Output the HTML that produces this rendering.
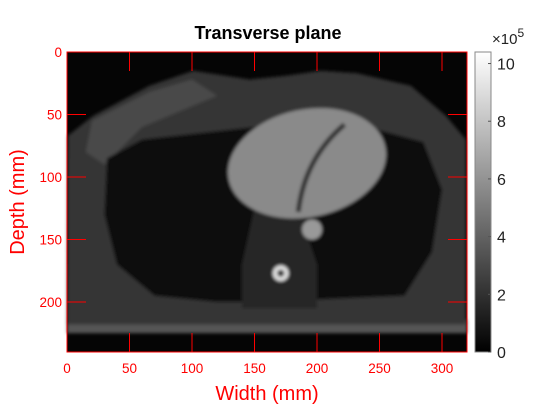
<!DOCTYPE html>
<html><head><meta charset="utf-8"><style>
body{margin:0;background:#fff;width:560px;height:420px;overflow:hidden;font-family:"Liberation Sans",Arial,sans-serif}
svg{position:absolute;left:0;top:0}
</style></head><body>
<svg width="560" height="420" id="chart">
<defs>
<linearGradient id="cb" x1="0" y1="1" x2="0" y2="0"><stop offset="0" stop-color="#000"/><stop offset="1" stop-color="#fff"/></linearGradient>
<filter id="blur"><feGaussianBlur stdDeviation="1.5"/></filter>
</defs>
<text x="268" y="39" text-anchor="middle" font-size="18" font-weight="bold" fill="#000">Transverse plane</text>
<g id="img"></g>
<g id="axes"></g>
</svg>
<script>
const xTicks=[0,50,100,150,200,250,300];
const yTicks=[0,50,100,150,200];
const cbTicks=[0,2,4,6,8,10];
const xMax=320, yMax=240, cbMax=10.4;
const L=67,R=467,T=52,B=352;
const sx=v=>L+v/xMax*(R-L), sy=v=>T+v/yMax*(B-T);
const NS='http://www.w3.org/2000/svg';
const svg=document.getElementById('chart');
const img=document.getElementById('img'), ax=document.getElementById('axes');
function mk(tag,attrs,parent){const e=document.createElementNS(NS,tag);for(const k in attrs)e.setAttribute(k,attrs[k]);(parent||svg).appendChild(e);return e;}
function poly(pts){return 'M'+pts.map(p=>sx(p[0]).toFixed(1)+','+sy(p[1]).toFixed(1)).join('L')+'Z';}
let bg=mk('rect',{x:L,y:T,width:R-L,height:B-T,fill:'#050505'},img);


const g=mk('g',{filter:'url(#blur)'},img);
let band=mk('rect',{x:sx(0),y:sy(214),width:R-L,height:sy(225)-sy(214),fill:'#555'},g);


const body=[[0.6,67],[21,51],[66,27],[101,15],[146,22],[175,19],[203,15],[232,17],[275,27],[303,51],[319,70],[319,218],[0,218]];
let bd=mk('path',{d:poly(body),fill:'#363636'},g);


let m1=mk('path',{d:poly([[20,55],[66,32],[100,22],[120,35],[60,60],[30,90],[15,80]]),fill:'#4a4a4a'},g);


const lung=[[32,85],[60,70],[150,60],[240,60],[285,72],[300,110],[292,160],[270,195],[200,198],[160,200],[120,200],[70,195],[40,170],[30,130]];
let lg=mk('path',{d:poly(lung),fill:'#080808'},g);


let med=mk('path',{d:poly([[150,125],[185,125],[200,170],[200,205],[140,205],[140,170]]),fill:'#262626'},g);


let ht=mk('ellipse',{cx:sx(192),cy:sy(89),rx:sx(64)-sx(0),ry:sy(43)-sy(0),fill:'#8a8a8a',transform:`rotate(-12 ${sx(192)} ${sy(89)})`},g);


let sp=mk('path',{d:`M${sx(222)},${sy(58)} Q${sx(190)},${sy(85)} ${sx(185)},${sy(128)}`,stroke:'#333','stroke-width':5,fill:'none'},g);


let ao=mk('circle',{cx:sx(196),cy:sy(142),r:10,fill:'#999'},g);


let vb=mk('circle',{cx:sx(171),cy:sy(177),r:8,fill:'#ddd'},g);


mk('circle',{cx:sx(171),cy:sy(177),r:3.5,fill:'#333'},g);
let box=mk('rect',{x:L,y:T,width:R-L,height:B-T,fill:'none',stroke:'#f00','stroke-width':1},ax);


const TL=19;
xTicks.forEach(v=>{const x=sx(v);
 mk('line',{x1:x,x2:x,y1:B,y2:B-TL,stroke:'#f00'},ax);mk('line',{x1:x,x2:x,y1:T,y2:T+TL,stroke:'#f00'},ax);
 const t=mk('text',{x:x,y:B+21,'text-anchor':'middle','font-size':13.5,fill:'#f00'},ax);t.textContent=v;
 
 });
yTicks.forEach(v=>{const y=sy(v);
 mk('line',{x1:L,x2:L+TL,y1:y,y2:y,stroke:'#f00'},ax);mk('line',{x1:R,x2:R-TL,y1:y,y2:y,stroke:'#f00'},ax);
 const t=mk('text',{x:L-5,y:y+5,'text-anchor':'end','font-size':13.5,fill:'#f00'},ax);t.textContent=v;
 
 });
let xt=mk('text',{x:267,y:400,'text-anchor':'middle','font-size':20,fill:'#f00'},ax);xt.textContent='Width (mm)';


let yt=mk('text',{x:0,y:0,'text-anchor':'middle','font-size':20,fill:'#f00',transform:'translate(24,202) rotate(-90)'},ax);yt.textContent='Depth (mm)';


const CL=475,CR=491;
let cbr=mk('rect',{x:CL,y:T,width:CR-CL,height:B-T,fill:'url(#cb)',stroke:'#888','stroke-width':1},ax);


cbTicks.forEach(v=>{const y=B-v/cbMax*(B-T);
 mk('line',{x1:CR,x2:CR-3,y1:y,y2:y,stroke:'#555'},ax);
 const t=mk('text',{x:CR+6,y:y+6,'font-size':16,fill:'#222'},ax);t.textContent=v;
 
 });
let ex=mk('text',{x:492,y:44,'font-size':15,fill:'#222'},ax);ex.innerHTML='×10<tspan dy="-7" font-size="12">5</tspan>';


</script>
</body></html>
